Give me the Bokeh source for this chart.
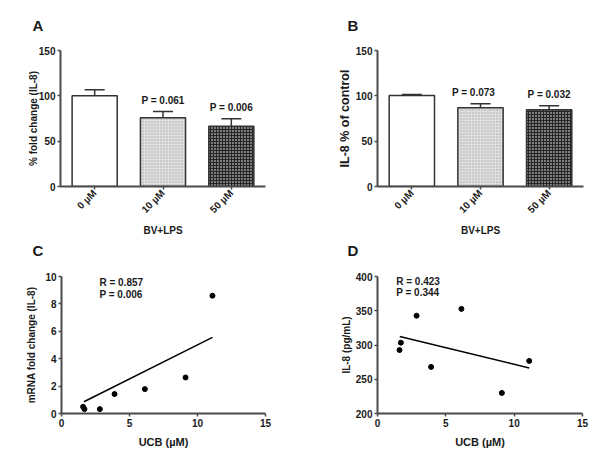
import math
from bokeh.plotting import figure
from bokeh.models import (ColumnDataSource, FactorRange, Range1d, Whisker, TeeHead, Label,
                          FixedTicker, Title)
from bokeh.layouts import row, column
from bokeh.embed import file_html
from bokeh.resources import INLINE
from bokeh.core.properties import value

# ---------------- data ----------------
doses = ["0 µM", "10 µM", "50 µM"]
a_mean = [100.0, 75.7, 66.5]
a_err = [106.6, 82.7, 74.6]
a_ptext = ["", "P = 0.061", "P = 0.006"]
b_mean = [100.5, 86.8, 84.6]
b_err = [101.5, 91.2, 89.0]
b_ptext = ["", "P = 0.073", "P = 0.032"]
bar_ticks = [0, 50, 100, 150]

c_ucb = [1.59, 1.69, 2.82, 3.90, 6.13, 9.12, 11.10]
c_mrna = [0.49, 0.32, 0.32, 1.42, 1.78, 2.63, 8.60]
c_fit_x = [1.65, 11.10]
c_fit_y = [0.86, 5.56]
c_stats = ["R = 0.857", "P = 0.006"]
c_yticks = [0, 2, 4, 6, 8, 10]

d_ucb = [1.61, 1.71, 2.86, 3.92, 6.14, 9.10, 11.10]
d_il8 = [292.6, 303.4, 342.8, 268.0, 352.7, 230.0, 276.8]
d_fit_x = [1.63, 11.10]
d_fit_y = [312.3, 266.5]
d_stats = ["R = 0.423", "P = 0.344"]
d_yticks = [200, 250, 300, 350, 400]
ucb_ticks = [0, 5, 10, 15]

FONT = "Liberation Sans"
AX = "#4a4a4a"
TXT = "#1a1a1a"


def style_axes(p, ylabel, ylabel_size, ylabel_standoff):
    for ax in (p.xaxis[0], p.yaxis[0]):
        ax.axis_line_color = AX
        ax.axis_line_width = 2
        ax.major_tick_line_color = AX
        ax.major_tick_line_width = 1.5
        ax.major_tick_in = 0
        ax.major_tick_out = 3
        ax.minor_tick_line_color = None
        ax.major_label_text_font = FONT
        ax.major_label_text_font_style = "bold"
        ax.major_label_text_font_size = "10px"
        ax.major_label_text_color = TXT
        ax.major_label_standoff = 2
        ax.axis_label_text_font = FONT
        ax.axis_label_text_font_style = "bold"
        ax.axis_label_text_color = TXT
    p.yaxis.axis_label = ylabel
    p.yaxis.axis_label_text_font_size = ylabel_size
    p.yaxis.axis_label_standoff = ylabel_standoff
    p.xgrid.grid_line_color = None
    p.ygrid.grid_line_color = None
    p.outline_line_color = None


def letter_title(letter, offset, standoff):
    return Title(text=letter, text_font=FONT, text_font_size="15px", text_font_style="bold",
                 text_color=TXT, align="left", vertical_align="top", offset=offset,
                 standoff=standoff)


def add_label(p, x, y, text, size, align="left"):
    p.add_layout(Label(x=x, y=y, text=text, text_font=FONT, text_font_size=size,
                       text_font_style="bold", text_color=TXT, text_align=align,
                       text_baseline="middle"))


def bar_panel(means, errs, ptext, ylabel, ylabel_size, ylabel_standoff, letter,
              next_letter, borders, frame_w, p_xoff, p_yoff, letter_off):
    src = ColumnDataSource(dict(
        dose=doses, mean=means, err=errs, ptext=ptext,
        fill=["white", "#dedede", "#262626"],
        hatch=[" ", "dot", "dot"],
        hcol=["white", "#aaaaaa", "#ffffff"],
        pxoff=p_xoff, pyoff=p_yoff,
    ))
    p = figure(x_range=FactorRange(*doses), y_range=Range1d(0, 150),
               frame_width=frame_w, frame_height=136, output_backend="svg",
               toolbar_location=None, min_border_left=borders[0],
               min_border_right=borders[1], min_border_top=50, min_border_bottom=82,
               title=letter_title(letter, letter_off, 29))
    p.vbar(x="dose", top="mean", width=0.66, source=src, fill_color="fill",
           line_color="#333333", line_width=1.5, hatch_pattern="hatch",
           hatch_color="hcol", hatch_scale=3, hatch_weight=1)
    p.add_layout(Whisker(source=src, base="dose", lower="mean", upper="err",
                         dimension="height", lower_head=None,
                         upper_head=TeeHead(size=20, line_color="#333333", line_width=1.5),
                         line_color="#333333", line_width=1.5))
    p.text(x="dose", y="err", text="ptext", source=src, x_offset="pxoff", y_offset="pyoff",
           text_font=value(FONT), text_font_size="10px", text_font_style="bold",
           text_color=TXT, text_align="center", text_baseline="bottom")
    style_axes(p, ylabel, ylabel_size, ylabel_standoff)
    p.yaxis.ticker = FixedTicker(ticks=bar_ticks)
    p.xaxis.major_label_orientation = math.pi / 4
    p.xaxis.axis_label = "BV+LPS"
    p.xaxis.axis_label_text_font_size = "10px"
    p.xaxis.axis_label_standoff = 3
    # letter of the panel underneath, drawn in this figure's lower border
    p.add_layout(letter_title(next_letter, letter_off, 4), "below")
    return p


pA = bar_panel(a_mean, a_err, a_ptext, "% fold change (IL-8)", "10px", -3, "A", "C",
               (60, 35), 205, [0, 0, 0], [-6, -6, -6], -28)
pB = bar_panel(b_mean, b_err, b_ptext, "IL-8 % of control", "12.5px", 1, "B", "D",
               (77, 17), 206, [0, -7, 0], [-6, -6, -6], -30)


def scatter_panel(xs, ys, fx, fy, yr, yticks, ylabel, ylabel_standoff, stats, stat_x,
                  stat_y, borders, frame_w):
    p = figure(x_range=Range1d(0, 15), y_range=Range1d(*yr),
               frame_width=frame_w, frame_height=137, output_backend="svg",
               toolbar_location=None, min_border_left=borders[0],
               min_border_right=borders[1], min_border_top=8, min_border_bottom=43)
    p.scatter(xs, ys, size=5, color="black")
    p.line(fx, fy, line_width=1.5, color="black")
    style_axes(p, ylabel, "10px", ylabel_standoff)
    p.xaxis.ticker = FixedTicker(ticks=ucb_ticks)
    p.yaxis.ticker = FixedTicker(ticks=yticks)
    p.xaxis.axis_label = "UCB (µM)"
    p.xaxis.axis_label_text_font_size = "11px"
    p.xaxis.axis_label_standoff = 6
    for t, yy in zip(stats, stat_y):
        add_label(p, stat_x, yy, t, "10px")
    return p


pC = scatter_panel(c_ucb, c_mrna, c_fit_x, c_fit_y, (0, 10), c_yticks,
                   "mRNA fold change (IL-8)", 5, c_stats, 2.79, [9.55, 8.7],
                   (61, 35), 204)
pD = scatter_panel(d_ucb, d_il8, d_fit_x, d_fit_y, (200, 400), d_yticks,
                   "IL-8 (pg/mL)", 1, d_stats, 1.37, [393, 376],
                   (77, 18), 205)

layout = column(row(pA, pB), row(pC, pD))
open("out.html", "w").write(file_html(layout, INLINE))
